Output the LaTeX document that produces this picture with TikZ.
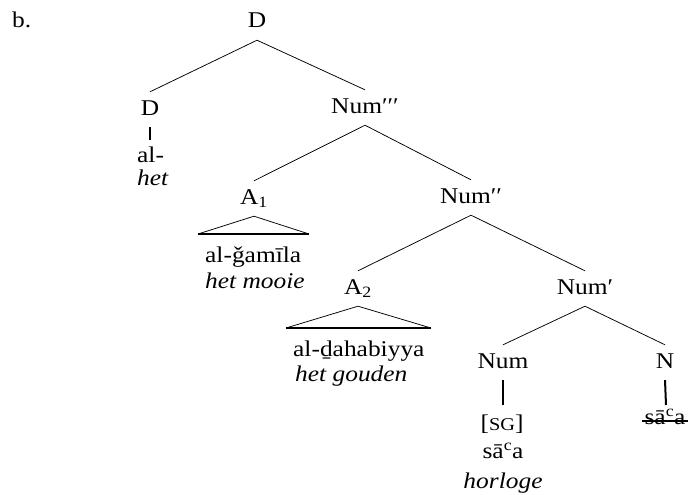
\documentclass[tikz,border=0pt]{standalone}
\usepackage{fontspec}
\setmainfont{Liberation Serif}[FakeStretch=1.13]
\tikzset{
  lbl/.style={anchor=base, text height=16pt, text depth=5pt, inner xsep=0pt, inner ysep=7pt, font=\fontsize{22.5}{27}\selectfont},
  txt/.style={anchor=base west, inner sep=0pt, text height=16pt, text depth=5pt, font=\fontsize{22.5}{27}\selectfont},
  txtc/.style={anchor=base, inner sep=0pt, text height=16pt, text depth=5pt, font=\fontsize{22.5}{27}\selectfont},
  branch/.style={line width=0.75pt},
  stem/.style={line width=2pt},
  tribase/.style={line width=1.8pt}
}
\begin{document}
\begin{tikzpicture}[x=1pt,y=-1pt]
\useasboundingbox (0,0) rectangle (688,495);
% labels
\node[txt] (ex) at (12,28) {b.};
\node[lbl] (root) at (257,28) {D};
\node[lbl] (d) at (150,115) {D};
\node[lbl] (num3) at (365,113) {Num′′′};
\node[lbl] (a1) at (254,204) {A\textsubscript{1}};
\node[lbl] (num2) at (471,203) {Num′′};
\node[lbl] (a2) at (358,294) {A\textsubscript{2}};
\node[lbl] (num1) at (585,294) {Num′};
\node[lbl] (num) at (503,368) {Num};
\node[lbl] (n) at (665,368) {N};
% terminal texts
\node[txt] (dal) at (137,162) {al-};
\node[txt] (dhet) at (137,185) {\itshape het};
\node[txt] (a1ar) at (205,262) {al-ǧamīla};
\node[txt] (a1nl) at (205,288) {\itshape het mooie};
\node[txt] (a2ar) at (293,356) {al-ḏahabiyya};
\node[txt] (a2nl) at (295,381) {\itshape het gouden};
\node[txtc] (sg) at (502,430) {[{\fontsize{18}{18}\selectfont SG}]};
\node[txtc] (saa) at (503,458) {sā\textsuperscript{c}a};
\node[txtc] (hor) at (503,488) {\itshape horloge};
\node[txtc] (nsaa) at (665,424) {sā\textsuperscript{c}a};
% coordinates
\coordinate (a1l) at (198,234);
\coordinate (a1r) at (309,234);
\coordinate (a2l) at (286,328);
\coordinate (a2r) at (431,328);
\coordinate (dstemend) at (150,140);
\coordinate (nstemend) at (666,405);
\coordinate (numstemend) at (503,405);
\coordinate (strl) at (642,421);
\coordinate (strr) at (690,421);
% branches
\draw[branch] (root.south) -- (d.north);
\draw[branch] (root.south) -- (num3.north);
\draw[branch] (num3.south) -- (a1.north);
\draw[branch] (num3.south) -- (num2.north);
\draw[branch] (num2.south) -- (a2.north);
\draw[branch] (num2.south) -- (num1.north);
\draw[branch] (num1.south) -- (num.north);
\draw[branch] (num1.south) -- (n.north);
% triangles
\draw[branch] (a1l) -- (a1.south) -- (a1r);
\draw[tribase] (a1l) -- (a1r);
\draw[branch] (a2l) -- (a2.south) -- (a2r);
\draw[tribase] (a2l) -- (a2r);
% stems
\draw[stem] (d.south) -- (dstemend);
\draw[stem] (num.south) -- (numstemend);
\draw[stem] (n.south) -- (nstemend);
% strike-through
\draw[line width=1.2pt] (strl) -- (strr);
\end{tikzpicture}
\end{document}
